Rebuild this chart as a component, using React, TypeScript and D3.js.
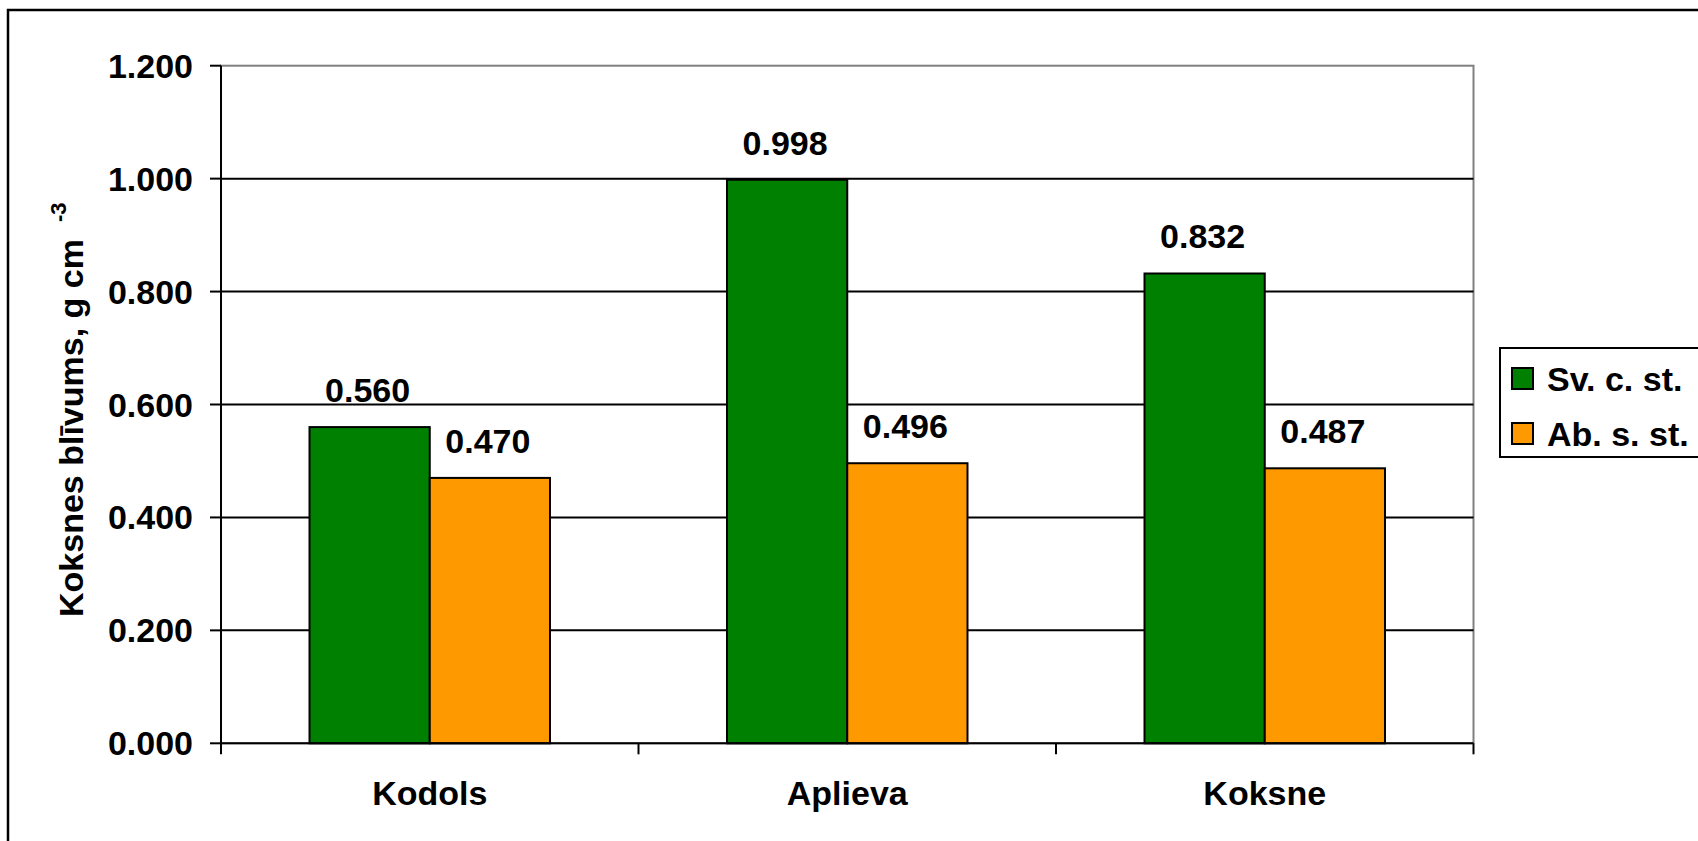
import React from "react";
import * as d3 from "d3";

const categories = ["Kodols", "Aplieva", "Koksne"];
const seriesNames = ["Sv. c. st.", "Ab. s. st."];
const svValues = [0.56, 0.998, 0.832];
const abValues = [0.47, 0.496, 0.487];
const yTicks = [0, 0.2, 0.4, 0.6, 0.8, 1.0, 1.2];
const colors = ["#008000", "#FF9900"];

const W = 1698;
const H = 841;
const plot = { left: 221, right: 1473.5, top: 65.7, bottom: 743.3 };
const FONT = "'Liberation Sans', Arial, Helvetica, sans-serif";

export default function App() {
  const y = d3.scaleLinear().domain([0, 1.2]).range([plot.bottom, plot.top]);
  const x = d3.scaleBand().domain(categories).range([plot.left, plot.right]).paddingInner(0).paddingOuter(0);
  const bw = x.bandwidth();
  const barW = bw * 0.288;
  const series = [svValues, abValues];
  const bounds = [plot.left, ...categories.map((c) => (x(c) as number) + bw)];

  return (
    <svg
      width={W}
      height={H}
      style={{ position: "absolute", left: 0, top: 0, background: "#fff" }}
      fontFamily={FONT}
      fontWeight="bold"
    >
      <rect x={0} y={0} width={W} height={H} fill="#fff" />
      {/* outer chart border */}
      <rect x={8} y={10} width={W + 20} height={H + 20} fill="none" stroke="#000" strokeWidth={2.5} />

      {/* plot area border */}
      <rect
        x={plot.left}
        y={plot.top}
        width={plot.right - plot.left}
        height={plot.bottom - plot.top}
        fill="#fff"
        stroke="#808080"
        strokeWidth={2}
      />
      {/* gridlines */}
      {yTicks.slice(1, -1).map((t) => (
        <line key={t} x1={plot.left} x2={plot.right} y1={y(t)} y2={y(t)} stroke="#000" strokeWidth={2} />
      ))}

      {/* bars */}
      {categories.map((c, i) => {
        const cx = (x(c) as number) + bw / 2;
        return series.map((vals, s) => {
          const bx = cx - barW + s * barW;
          return (
            <rect
              key={c + s}
              x={bx}
              y={y(vals[i])}
              width={barW}
              height={plot.bottom - y(vals[i])}
              fill={colors[s]}
              stroke="#000"
              strokeWidth={2}
            />
          );
        });
      })}

      {/* data labels */}
      {categories.map((c, i) => {
        const cx = (x(c) as number) + bw / 2;
        return series.map((vals, s) => {
          const lx = cx - barW + s * barW + barW / 2;
          return (
            <text key={"l" + c + s} x={lx - 2} y={y(vals[i]) - 25} textAnchor="middle" fontSize={34} fill="#000">
              {vals[i].toFixed(3)}
            </text>
          );
        });
      })}

      {/* axes */}
      <line x1={plot.left} x2={plot.left} y1={plot.top} y2={plot.bottom} stroke="#000" strokeWidth={2} />
      <line x1={plot.left} x2={plot.right} y1={plot.bottom} y2={plot.bottom} stroke="#000" strokeWidth={2} />
      {yTicks.map((t) => (
        <g key={"t" + t}>
          <line x1={plot.left - 11} x2={plot.left} y1={y(t)} y2={y(t)} stroke="#000" strokeWidth={2} />
          <text x={193} y={y(t) + 12} textAnchor="end" fontSize={34} fill="#000">
            {t.toFixed(3)}
          </text>
        </g>
      ))}
      {bounds.map((b, i) => (
        <line key={"xb" + i} x1={b} x2={b} y1={plot.bottom} y2={plot.bottom + 11} stroke="#000" strokeWidth={2} />
      ))}
      {categories.map((c) => (
        <text key={"c" + c} x={(x(c) as number) + bw / 2} y={805} textAnchor="middle" fontSize={34} fill="#000">
          {c}
        </text>
      ))}

      {/* y axis title */}
      <text transform="translate(83,617) rotate(-90)" fontSize={34} fill="#000">
        Koksnes blīvums, g cm
        <tspan fontSize={22} dx={17} dy={-17}>
          -3
        </tspan>
      </text>

      {/* legend */}
      <rect x={1500} y={348} width={220} height={109} fill="#fff" stroke="#000" strokeWidth={2} />
      {seriesNames.map((n, i) => (
        <g key={"lg" + n}>
          <rect x={1512} y={368 + i * 55} width={21} height={21} fill={colors[i]} stroke="#000" strokeWidth={2} />
          <text x={1547} y={391 + i * 55} fontSize={34} fill="#000">
            {n}
          </text>
        </g>
      ))}
    </svg>
  );
}
